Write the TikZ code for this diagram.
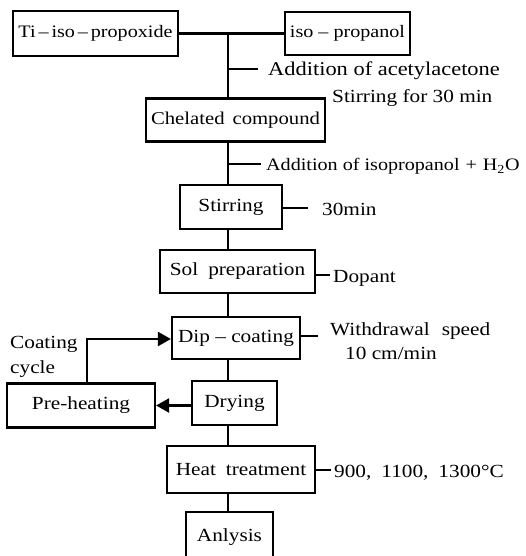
\documentclass[tikz,border=0pt]{standalone}
\usepackage{fontspec}
\setmainfont[FakeStretch=1.15]{Liberation Serif}
\usetikzlibrary{arrows.meta}
\begin{document}
\begin{tikzpicture}[x=1pt,y=-1pt,
  every node/.style={font=\fontsize{18.5}{21}\selectfont},
  ln/.style={line width=2.2pt},
  box/.style={draw, line width=2.2pt, inner sep=0pt},
  lab/.style={inner sep=0pt, anchor=base west, text height=15pt, text depth=1pt},
  arr/.style={ln, -{Triangle[length=13pt,width=14pt]}}]
\useasboundingbox (0,0) rectangle (525,556);
\clip (0,0) rectangle (525,556);
% boxes
\node[box, minimum width=165pt, minimum height=45pt, font=\fontsize{17.5}{20}\selectfont] (ti) at (95.5,33.5) {Ti\,–\,iso\,–\,propoxide};
\node[box, minimum width=125pt, minimum height=43pt, font=\fontsize{17.5}{20}\selectfont] (iso) at (347.5,33.5) {iso – propanol};
\node[box, minimum width=179pt, minimum height=43pt, font=\fontsize{18}{20}\selectfont] (chel) at (235.5,120) {Chelated\hspace{8pt}compound};
\node[box, minimum width=102pt, minimum height=44pt] (stir) at (231,207) {Stirring};
\node[box, minimum width=155pt, minimum height=43pt] (sol) at (237.5,271.5) {Sol\hspace{10pt}preparation};
\node[box, minimum width=128pt, minimum height=42pt] (dip) at (236,338) {Dip – coating};
\node[box, minimum width=85pt, minimum height=44pt] (dry) at (234.5,403) {Drying};
\node[box, minimum width=148pt, minimum height=44pt] (pre) at (81,405.5) {Pre-heating};
\node[box, minimum width=148pt, minimum height=47pt] (heat) at (241,469.5) {Heat\hspace{10pt}treatment};
\node[box, minimum width=87pt, minimum height=50pt] (anl) at (229.5,537) {Anlysis};
% labels (positions are baselines)
\node[lab, font=\fontsize{19.5}{22}\selectfont] (t1) at (268,76) {Addition of acetylacetone};
\node[lab] (t2) at (332,103) {Stirring for 30 min};
\node[lab, font=\fontsize{17.5}{21}\selectfont] (t3) at (266,171) {Addition of isopropanol\hspace{6pt}+\hspace{6pt}H\textsubscript{2}O};
\node[lab] (t4) at (322,215) {30min};
\node[lab] (t5) at (333,282) {Dopant};
\node[lab] (t6) at (330,335) {Withdrawal\hspace{12pt}speed};
\node[lab] (t7) at (345,359) {10 cm/min};
\node[lab] (t8) at (334,477) {900,\hspace{10pt}1100,\hspace{10pt}1300°C};
\node[lab] (t9) at (10,348) {Coating};
\node[lab] (t10) at (10,373) {cycle};
% connectors
\coordinate (sp) at (228,0);
\coordinate (j1) at (228,33.5);
\coordinate (w1) at (318,336);
\coordinate (cy) at (87,339);
\draw[ln] (ti) -- (iso);
\draw[ln] (j1) -- (j1 |- chel.north);
\draw[ln] (sp |- t1.west) -- ([xshift=-10pt]t1.west);
\draw[ln] (sp |- chel.south) -- (sp |- stir.north);
\draw[ln] (sp |- t3.west) -- ([xshift=-5pt]t3.west);
\draw[ln] (stir.east |- t4.west) -- ([xshift=-14pt]t4.west);
\draw[ln] (sp |- stir.south) -- (sp |- sol.north);
\draw[ln] (sol.east |- t5.west) -- ([xshift=-3pt]t5.west);
\draw[ln] (sp |- sol.south) -- (sp |- dip.north);
\draw[ln] (dip.east |- w1) -- (w1);
\draw[ln] (sp |- dip.south) -- (sp |- dry.north);
\draw[arr] (dry.west |- pre.east) -- (pre.east);
\draw[arr] (pre.north -| cy) |- (dip.west |- cy);
\draw[ln] (sp |- dry.south) -- (sp |- heat.north);
\draw[ln] (heat.east |- t8.west) -- ([xshift=-3pt]t8.west);
\draw[ln] (sp |- heat.south) -- (sp |- anl.north);
\end{tikzpicture}
\end{document}
